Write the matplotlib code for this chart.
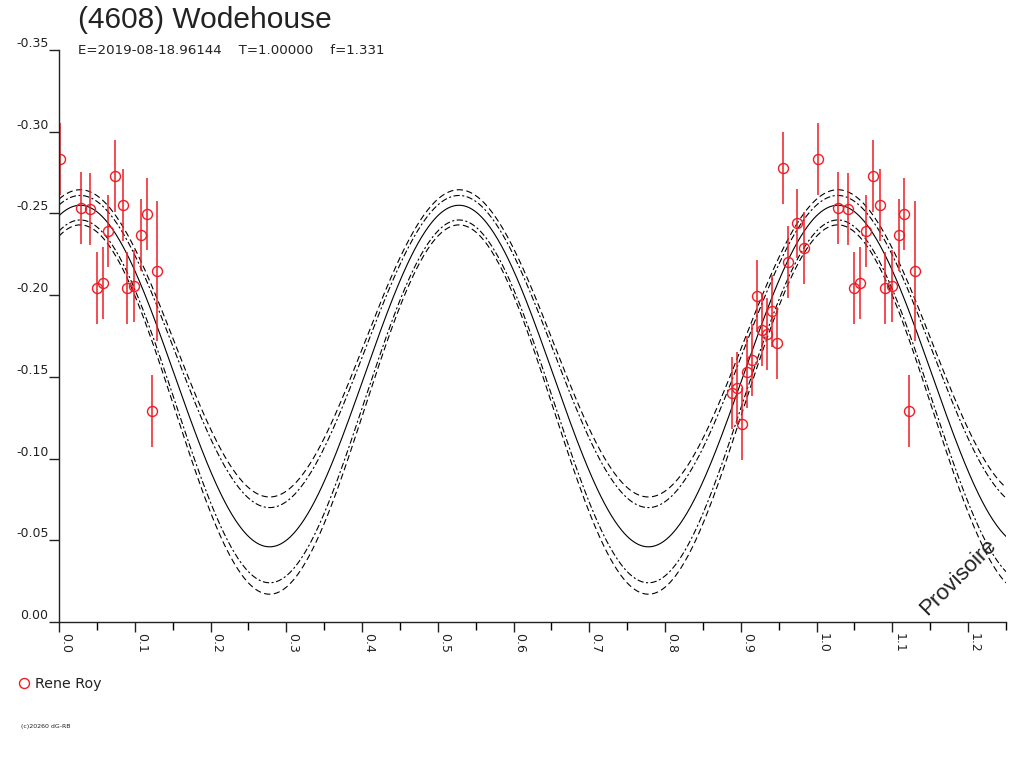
import numpy as np
import matplotlib
matplotlib.use("Agg")
import matplotlib.pyplot as plt
from matplotlib.ticker import MultipleLocator, FormatStrFormatter

plt.rcParams['font.family'] = ['DejaVu Sans']
plt.rcParams['axes.unicode_minus'] = False
plt.rcParams['lines.scale_dashes'] = False

# observations (phase, reduced magnitude, 1-sigma error)
obs_phase = [0.0013, 0.0286, 0.0409, 0.0651, 0.0497, 0.0577, 0.0739, 0.0840,
             0.0902, 0.0990, 0.1083, 0.1158, 0.1298, 0.1223,
             0.9553, 0.9737, 0.9835, 0.9628, 0.9210, 0.9408, 0.9285, 0.9351,
             0.9474, 0.9144, 0.9078, 0.8946, 0.8880, 0.9012]
obs_mag = [-0.2834, -0.2532, -0.2528, -0.2395, -0.2046, -0.2073, -0.2729, -0.2552,
           -0.2046, -0.2058, -0.2368, -0.2495, -0.2148, -0.1291,
           -0.2780, -0.2440, -0.2291, -0.2205, -0.1995, -0.1903, -0.1787, -0.1761,
           -0.1706, -0.1603, -0.1532, -0.1434, -0.1403, -0.1212]
obs_err = [0.022, 0.022, 0.022, 0.022, 0.022, 0.022, 0.022, 0.022,
           0.022, 0.022, 0.022, 0.022, 0.043, 0.022,
           0.022, 0.021, 0.022, 0.022, 0.022, 0.022, 0.022, 0.022,
           0.022, 0.022, 0.022, 0.022, 0.022, 0.022]

# fitted model (2nd harmonic) : mean, half amplitude, phase of maximum
fit_mean = [-0.1705, -0.1655, -0.1505, -0.1350, -0.1300]
fit_amp = [0.0940, 0.0955, 0.1045, 0.1110, 0.1130]
fit_phase0 = 0.028
fit_style = ['dashed', 'dashdot', 'solid', 'dashdot', 'dashed']

title = "(4608) Wodehouse"
subtitle = "E=2019-08-18.96144    T=1.00000    f=1.331"
observer = "Rene Roy"

W, H = 1024, 768
fig = plt.figure(figsize=(W / 100, H / 100), dpi=100)
ax = fig.add_axes([59 / W, 1 - 622 / H, (1006 - 59) / W, (622 - 50) / H])

red = '#ee1c24'
ph = np.linspace(0, 1.25, 800)
dash = {'dashed': (0, (4.5, 2.5)), 'dashdot': (0, (4.5, 1.8, 1.5, 1.8)), 'solid': '-'}
for m, a, st in zip(fit_mean, fit_amp, fit_style):
    y = m - a * np.cos(4 * np.pi * (ph - fit_phase0))
    ax.plot(ph, y, color='black', lw=0.8, linestyle=dash[st])

p = np.array(obs_phase)
v = np.array(obs_mag)
e = np.array(obs_err)
for s in (-1, 0, 1):
    xs = p + s
    k = (xs >= -0.01) & (xs <= 1.26)
    ax.errorbar(xs[k], v[k], yerr=e[k], fmt='none', ecolor=red, elinewidth=1.1, capsize=0)
    ax.plot(xs[k], v[k], 'o', mfc='none', mec=red, mew=1.0, ms=7.2)

ax.set_xlim(0, 1.25)
ax.set_ylim(0, -0.35)
for sp in ('top', 'right'):
    ax.spines[sp].set_visible(False)
for sp in ('left', 'bottom'):
    ax.spines[sp].set_linewidth(1.0)
    ax.spines[sp].set_color('#222222')

ax.xaxis.set_major_locator(MultipleLocator(0.1))
ax.xaxis.set_minor_locator(MultipleLocator(0.05))
ax.xaxis.set_major_formatter(FormatStrFormatter('%.1f'))
ax.yaxis.set_major_locator(MultipleLocator(0.05))
ax.yaxis.set_major_formatter(FormatStrFormatter('%.2f'))
ax.tick_params(axis='x', which='major', direction='out', length=7.5, width=1, pad=0.5,
               labelsize=9, colors='#222222')
ax.tick_params(axis='x', which='minor', direction='out', length=6, width=1)
ax.tick_params(axis='y', direction='out', length=7.5, width=1, pad=0,
               labelsize=9, colors='#222222')
for lab in ax.get_xticklabels():
    lab.set_rotation(-90)
    lab.set_ha('left')
    lab.set_va('top')
for lab in ax.get_yticklabels():
    lab.set_va('bottom')

fig.text(78 / W, 1 - 28 / H, title, fontsize=21.5, family='Liberation Sans',
         color='#222222', va='baseline')
fig.text(78 / W, 1 - 54 / H, subtitle, fontsize=9.6, color='#222222', va='baseline')

fig.lines.append(plt.Line2D([24 / W], [1 - 683 / H], marker='o', mfc='none', mec=red,
                            mew=1.0, ms=7.2, transform=fig.transFigure))
fig.text(35 / W, 1 - 688 / H, observer, fontsize=10.3, color='#222222', va='baseline')
fig.text(21 / W, 1 - 728 / H, "(c)20260 dG-RB", fontsize=4.5, color='#222222', va='baseline')
fig.text(958 / W, 1 - 577 / H, "Provisoire", rotation=45, ha='center', va='center',
         fontsize=16, family='Liberation Sans', color='#222222')

fig.savefig('out.png', dpi=100)
